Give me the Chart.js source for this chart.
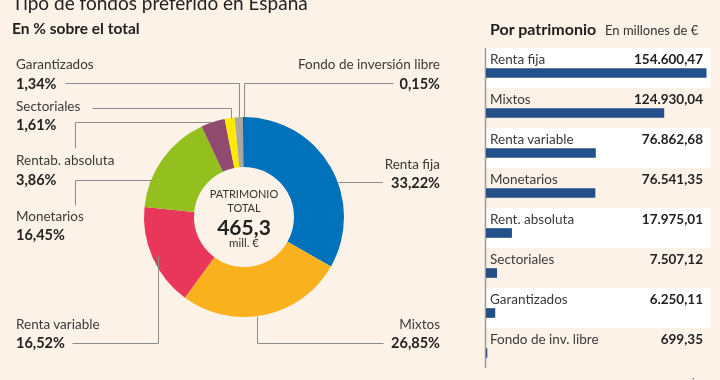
<!DOCTYPE html>
<html><head><meta charset="utf-8">
<script src="https://cdn.jsdelivr.net/npm/chart.js@4.4.1/dist/chart.umd.min.js"></script>
<style>
html,body{margin:0;padding:0;background:#fcf2e8;width:720px;height:380px;overflow:hidden;font-family:Lato,'Open Sans',sans-serif;color:#2e2e2e}
#wrap{position:relative;width:720px;height:380px}
canvas{position:absolute;left:0;top:0}
.t{position:absolute;white-space:nowrap;line-height:1}
</style></head><body>
<div id="wrap">
<canvas id="donut" width="720" height="380"></canvas>
<canvas id="bars" width="720" height="380"></canvas>
<div id="texts"></div>
</div>
<script>
// ---- Data ----
const donutLabels = ['Renta fija','Mixtos','Renta variable','Monetarios','Rentab. absoluta','Sectoriales','Garantizados','Fondo de inversión libre'];
const donutPct = [33.22, 26.85, 16.52, 16.45, 3.86, 1.61, 1.34, 0.15];
const donutColors = ['#0071bb','#f9b21d','#e8375b','#93c01f','#8f4a6d','#ffe900','#a9a8a0','#3a3a3a'];
const totalLabel = ['PATRIMONIO','TOTAL'];
const totalValue = '465,3';
const totalUnit = 'mill. €';

const barLabels = ['Renta fija','Mixtos','Renta variable','Monetarios','Rent. absoluta','Sectoriales','Garantizados','Fondo de inv. libre'];
const barValues = [154600.47, 124930.04, 76862.68, 76541.35, 17975.01, 7507.12, 6250.11, 699.35];
const xMax = 158000;

const titleText = 'Tipo de fondos preferido en España';
const subtitleText = 'En % sobre el total';
const panelTitle = 'Por patrimonio';
const panelUnit = 'En millones de €';
const sourceText = 'Fuente: VDOS';
const creditText = 'A. CORTINAS / CINCO DÍAS';

// ---- Layout (positions only) ----
const labelLayout = [
  {side:'R', x:440, ny:165, vy:183},
  {side:'R', x:440, ny:325, vy:343},
  {side:'L', x:16,  ny:325, vy:343},
  {side:'L', x:16,  ny:217, vy:235},
  {side:'L', x:16,  ny:161, vy:180},
  {side:'L', x:16,  ny:107, vy:125},
  {side:'L', x:16,  ny:65,  vy:84},
  {side:'R', x:440, ny:65,  vy:84}
];
const leaderRoutes = [
  {type:'H',   x0:382, y:182},
  {type:'HVc', x0:383, y:343, x:257},
  {type:'HV',  x0:72,  y:343, f:0.94},
  {type:'VHc', x0:75,  y0:205, y:180},
  {type:'VH',  x0:75,  y0:148, f:1},
  {type:'HVc', x0:92,  y:108, x:231},
  {type:'HV',  x0:65,  y:83,  f:1},
  {type:'HV',  x0:393, y:83,  f:1}
];

function fmt(v, dec){
  const s = v.toFixed(dec);
  let [i, d] = s.split('.');
  i = i.replace(/\B(?=(\d{3})+(?!\d))/g, '.');
  return d ? i + ',' + d : i;
}

const texts = document.getElementById('texts');
function addText(str, x, y, o){
  o = o || {};
  const d = document.createElement('div');
  d.className = 't';
  d.textContent = str;
  d.style.fontSize = (o.size || 14) + 'px';
  d.style.fontWeight = o.bold ? '700' : '400';
  if (o.color) d.style.color = o.color;
  d.style.top = y + 'px';
  if (o.align === 'right') { d.style.right = (720 - x) + 'px'; d.style.transform = 'translateY(-50%)'; }
  else if (o.align === 'center') { d.style.left = x + 'px'; d.style.transform = 'translate(-50%,-50%)'; }
  else { d.style.left = x + 'px'; d.style.transform = 'translateY(-50%)'; }
  texts.appendChild(d);
}

// ---- Donut ----
const leaderPlugin = {
  id:'leaders',
  afterDatasetsDraw(chart){
    const ctx = chart.ctx;
    const arcs = chart.getDatasetMeta(0).data;
    ctx.save();
    ctx.strokeStyle = '#8c8c8c'; ctx.lineWidth = 1;
    leaderRoutes.forEach((rt, i) => {
      const a = arcs[i];
      const cx = a.x, cy = a.y, R = a.outerRadius;
      const mid = (a.startAngle + a.endAngle) / 2;
      const f = rt.f || 1;
      const px = cx + R*f*Math.cos(mid), py = cy + R*f*Math.sin(mid);
      const pts = [];
      if (rt.type === 'H') {
        const dx = Math.sqrt(R*R - (rt.y-cy)*(rt.y-cy));
        pts.push([rt.x0, rt.y], [rt.x0 > cx ? cx+dx : cx-dx, rt.y]);
      } else if (rt.type === 'HV') {
        pts.push([rt.x0, rt.y], [px, rt.y], [px, py]);
      } else if (rt.type === 'HVc') {
        const dy = Math.sqrt(R*R - (rt.x-cx)*(rt.x-cx));
        pts.push([rt.x0, rt.y], [rt.x, rt.y], [rt.x, rt.y > cy ? cy+dy : cy-dy]);
      } else if (rt.type === 'VH') {
        pts.push([rt.x0, rt.y0], [rt.x0, py], [px, py]);
      } else if (rt.type === 'VHc') {
        const dx = Math.sqrt(R*R - (rt.y-cy)*(rt.y-cy));
        pts.push([rt.x0, rt.y0], [rt.x0, rt.y], [rt.x0 > cx ? cx+dx : cx-dx, rt.y]);
      }
      ctx.beginPath();
      pts.forEach((p, k) => {
        const X = Math.round(p[0]) + 0.5, Y = Math.round(p[1]) + 0.5;
        if (k) ctx.lineTo(X, Y); else ctx.moveTo(X, Y);
      });
      ctx.stroke();
    });
    ctx.restore();
  }
};

const donutChart = new Chart(document.getElementById('donut'), {
  type:'doughnut',
  data:{labels:donutLabels, datasets:[{data:donutPct, backgroundColor:donutColors, borderWidth:0}]},
  options:{
    responsive:false, animation:false, devicePixelRatio:1,
    cutout:'50%',
    layout:{padding:{left:144, right:376, top:117, bottom:63}},
    plugins:{legend:{display:false}, tooltip:{enabled:false}}
  },
  plugins:[leaderPlugin]
});

// ---- Bars ----
const rowPlugin = {
  id:'rows',
  beforeDatasetsDraw(chart){
    const ctx = chart.ctx, ys = chart.scales.y, ca = chart.chartArea;
    ctx.save();
    ctx.fillStyle = '#ffffff';
    barValues.forEach((v, i) => {
      const yc = ys.getPixelForValue(i);
      if (i % 2 === 0) ctx.fillRect(ca.left, yc - 25, ca.right - ca.left, 40);
    });
    const y0 = ys.getPixelForValue(0) - 25, y1 = ys.getPixelForValue(barValues.length-1) + 15;
    ctx.strokeStyle = '#9a9a9a'; ctx.lineWidth = 1.5;
    ctx.beginPath(); ctx.moveTo(ca.left - 0.5, y0); ctx.lineTo(ca.left - 0.5, y1); ctx.stroke();
    ctx.restore();
  }
};

const barChart = new Chart(document.getElementById('bars'), {
  type:'bar',
  data:{labels:barLabels, datasets:[{data:barValues, backgroundColor:'#22508a', barThickness:9, borderWidth:0}]},
  options:{
    indexAxis:'y', responsive:false, animation:false, devicePixelRatio:1,
    layout:{padding:{left:486, right:9, top:53, bottom:7}},
    scales:{x:{display:false, min:0, max:xMax}, y:{display:false}},
    plugins:{legend:{display:false}, tooltip:{enabled:false}}
  },
  plugins:[rowPlugin]
});

// ---- Texts ----
addText(titleText, 12, 2, {size:19, color:'#222'});
addText(subtitleText, 12, 29, {size:15.5, bold:true, color:'#1e1e1e'});
addText(panelTitle, 490, 29, {size:16, bold:true, color:'#1e1e1e'});
addText(panelUnit, 605, 30, {size:13, color:'#333'});

donutLabels.forEach((lab, i) => {
  const L = labelLayout[i];
  const al = L.side === 'R' ? 'right' : 'left';
  addText(lab, L.x, L.ny, {size:13.5, align:al, color:'#3a3a3a'});
  addText(fmt(donutPct[i], 2) + '%', L.x, L.vy, {size:14.5, bold:true, align:al, color:'#222'});
});

const dMeta = donutChart.getDatasetMeta(0).data[0];
const cx = dMeta.x, cy = dMeta.y;
addText(totalLabel[0], cx, cy - 24, {size:11, align:'center', color:'#333'});
addText(totalLabel[1], cx, cy - 10, {size:11, align:'center', color:'#333'});
addText(totalValue, cx, cy + 9, {size:21, bold:true, align:'center', color:'#222'});
addText(totalUnit, cx, cy + 26, {size:11.5, align:'center', color:'#333'});

const ysc = barChart.scales.y;
barLabels.forEach((lab, i) => {
  const yc = ysc.getPixelForValue(i);
  addText(lab, 490, yc - 13, {size:13.5, color:'#3a3a3a'});
  addText(fmt(barValues[i], 2), 703, yc - 13, {size:13.5, bold:true, align:'right', color:'#222'});
});

addText(sourceText, 12, 383, {size:11, color:'#444'});
addText(creditText, 705, 383, {size:9, align:'right', color:'#444'});
</script>
</body></html>
